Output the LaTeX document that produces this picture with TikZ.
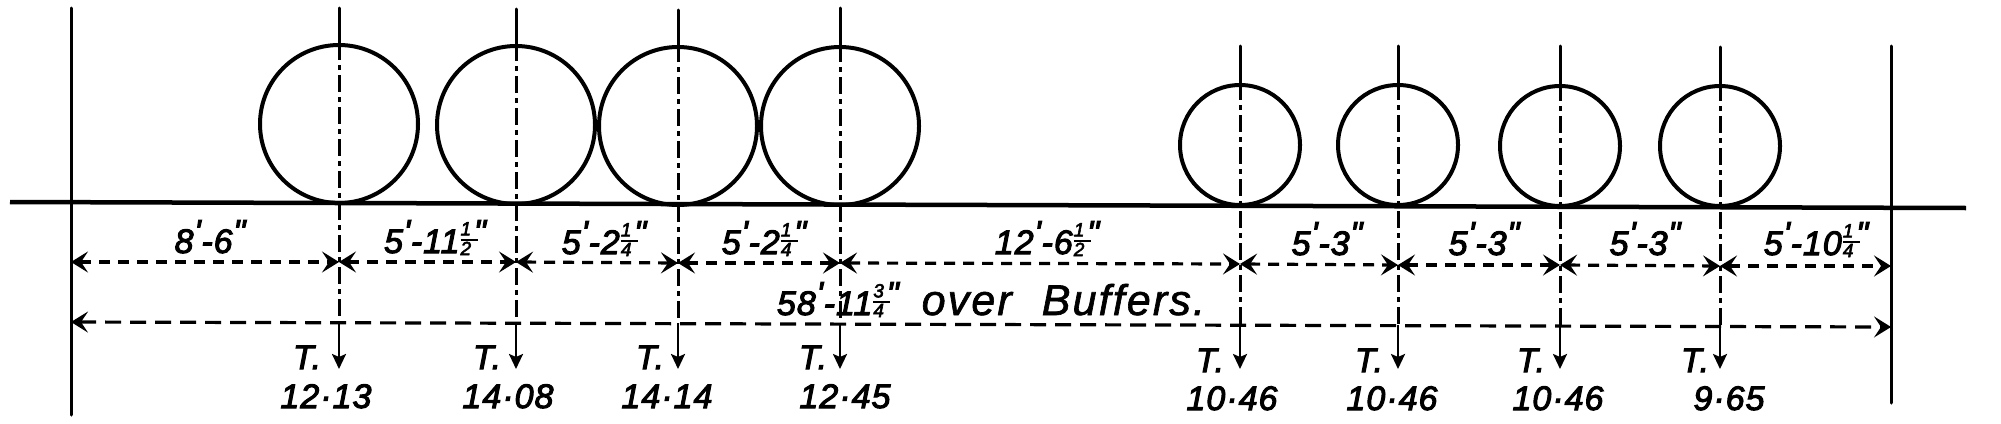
\documentclass[tikz,border=0pt]{standalone}
\usepackage{fontspec}
\setmainfont{Liberation Sans}
\newfontfamily\lbl[FakeBold=3,LetterSpace=3]{Liberation Sans}
\newfontfamily\lblthin[FakeBold=1.5,LetterSpace=5]{Liberation Sans}
\usetikzlibrary{arrows.meta}
\newcommand{\hs}[1]{\lbl\fontsize{#1}{#1}\selectfont\itshape}
\newcommand{\ftm}{\raisebox{.28em}{\kern.02em\char"27\kern.02em}}
\newcommand{\inm}{\raisebox{.28em}{\kern.02em\char"22}}
\newcommand{\fra}[2]{\mbox{\kern.03em\rlap{\raisebox{.52em}{\fontsize{19}{19}\selectfont #1}}\rlap{\raisebox{.36em}{\rule{.5em}{1.6pt}}}\raisebox{-.06em}{\fontsize{19}{19}\selectfont #2}\kern.06em}}
\tikzset{
  lab/.style={anchor=base,inner sep=0pt,font=\hs{34}},
  wheelb/.style={circle,draw,line width=4pt,minimum size=158pt,inner sep=0pt},
  wheels/.style={circle,draw,line width=4pt,minimum size=120pt,inner sep=0pt},
  solidl/.style={line width=3pt,line cap=round},
  axisd/.style={line width=3pt,dash pattern=on 17pt off 5pt on 5pt off 5pt},
  tiparrow/.style={line width=2.5pt,-{Stealth[length=15pt,width=14pt,inset=3pt]}},
  dimu/.style={line width=3.2pt,dash pattern=on 11pt off 8pt,{Stealth[length=17pt,width=21pt,inset=7pt]}-{Stealth[length=17pt,width=21pt,inset=7pt]}},
  diml/.style={line width=3.2pt,dash pattern=on 16pt off 9pt,{Stealth[length=17pt,width=21pt,inset=7pt]}-{Stealth[length=17pt,width=21pt,inset=7pt]}}
}
\begin{document}
\begin{tikzpicture}[x=1pt,y=-1pt]
\useasboundingbox (0,0) rectangle (2001,423);
% ground, end lines
\coordinate (g0) at (10,202);
\coordinate (g1) at (1966,208);
\draw[line width=4.5pt] (g0) -- (g1);
\coordinate (lt) at (71,8);
\coordinate (lb) at (71,415);
\coordinate (rt) at (1891,46);
\coordinate (rb) at (1891,403);
\draw[solidl] (lt) -- (lb);
\draw[solidl] (rt) -- (rb);
% wheels
\node[wheelb] (w1) at (339,124) {};
\node[wheelb] (w2) at (516,125) {};
\node[wheelb] (w3) at (678,126) {};
\node[wheelb] (w4) at (840,126) {};
\node[wheels] (w5) at (1240,145) {};
\node[wheels] (w6) at (1398,145) {};
\node[wheels] (w7) at (1560,146) {};
\node[wheels] (w8) at (1720,146) {};
% axle lines: w / top / y on upper dim / y on lower dim
\foreach \w/\x/\t/\u/\l in {1/339/8/262/322,2/516/9/262/322,3/678/10/263/323,4/840/8/263/324,
                            5/1240/46/264/325,6/1398/46/265/325,7/1560/46/265/326,8/1720/47/266/327}{
  \coordinate (top\w) at (\x,\t);
  \coordinate (up\w) at (\x,\u);
  \coordinate (lo\w) at (\x,\l);
  \coordinate (end\w) at (\x,369);
  \draw[solidl] (top\w) -- (w\w.north);
  \draw[axisd] (w\w.north) -- (lo\w);
  \draw[tiparrow] (lo\w) -- (end\w);
}
% dimension lines
\coordinate (ul) at (71,262);
\coordinate (ur) at (1891,266);
\coordinate (ll) at (71,322);
\coordinate (lr) at (1891,327);
\draw[dimu] (ul) -- (up1);
\draw[dimu] (up1) -- (up2);
\draw[dimu] (up2) -- (up3);
\draw[dimu] (up3) -- (up4);
\draw[dimu] (up4) -- (up5);
\draw[dimu] (up5) -- (up6);
\draw[dimu] (up6) -- (up7);
\draw[dimu] (up7) -- (up8);
\draw[dimu] (up8) -- (ur);
\draw[diml] (ll) -- (lr);
% dimension labels
\node[lab] (d1) at (210,253) {8\ftm-6\inm};
\node[lab] (d2) at (435,253) {5\ftm-11\fra{1}{2}\inm};
\node[lab] (d3) at (604,254) {5\ftm-2\fra{1}{4}\inm};
\node[lab] (d4) at (764,254) {5\ftm-2\fra{1}{4}\inm};
\node[lab] (d5) at (1047,254) {12\ftm-6\fra{1}{2}\inm};
\node[lab] (d6) at (1327,255) {5\ftm-3\inm};
\node[lab] (d7) at (1484,255) {5\ftm-3\inm};
\node[lab] (d8) at (1645,255) {5\ftm-3\inm};
\node[lab] (d9) at (1816,255) {5\ftm-10\fra{1}{4}\inm};
\node[lab] (tot) at (991,315) {58\ftm-11\fra{3}{4}\inm\hspace{23pt}{\lblthin\fontsize{43}{43}\selectfont\itshape over\hspace{30pt}Buffers.}};
% T labels
\foreach \n/\x/\y in {1/307/369,2/487/369,3/650/369,4/813/369,5/1210/372,6/1369/372,7/1531/372,8/1695/372}{
  \node[lab] (t\n) at (\x,\y) {T.};
}
% tonnage
\node[lab] (n1) at (326,408) {12·13};
\node[lab] (n2) at (508,408) {14·08};
\node[lab] (n3) at (667,408) {14·14};
\node[lab] (n4) at (845,408) {12·45};
\node[lab] (n5) at (1232,410) {10·46};
\node[lab] (n6) at (1392,410) {10·46};
\node[lab] (n7) at (1558,410) {10·46};
\node[lab] (n8) at (1729,410) {9·65};
\end{tikzpicture}
\end{document}
